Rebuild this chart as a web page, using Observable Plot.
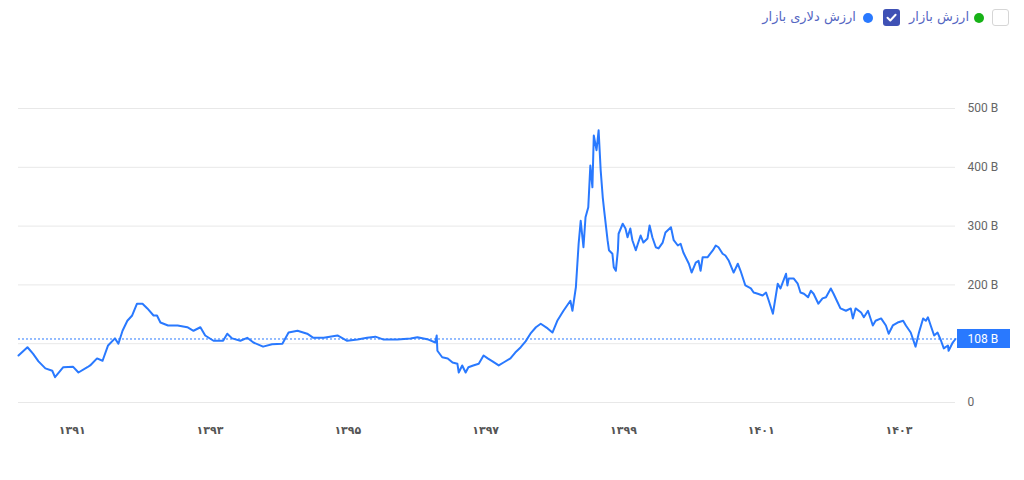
<!DOCTYPE html>
<html>
<head>
<meta charset="utf-8">
<script src="https://cdn.jsdelivr.net/npm/d3@7"></script>
<script src="https://cdn.jsdelivr.net/npm/@observablehq/plot@0.6"></script>
<style>
  html, body { margin: 0; padding: 0; background: #fff; }
  body { width: 1024px; height: 480px; position: relative; overflow: hidden; font-family: "DejaVu Sans", sans-serif; }
  #legend { position: relative; height: 40px; width: 1024px; }
  .lg { position: absolute; }
  .txt { color: #5566c2; font-size: 13px; font-family: "DejaVu Sans", sans-serif; direction: rtl; white-space: nowrap; line-height: 18px; }
  .dot { width: 10px; height: 10px; border-radius: 50%; }
  .box { width: 17px; height: 17px; border-radius: 3px; box-sizing: border-box; }
</style>
</head>
<body>
<div id="legend">
  <div class="lg box" style="left:992px; top:9px; border:1px solid #d6d6d6; background:#fff;"></div>
  <div class="lg dot" style="left:974px; top:13px; background:#17b217;"></div>
  <div class="lg txt" style="right:55px; top:8px;">ارزش بازار</div>
  <div class="lg box" style="left:883px; top:9px; background:#3f51b5;">
    <svg width="17" height="17" viewBox="0 0 17 17"><path d="M4.5 8.8 L7.3 11.5 L12.6 5.8" fill="none" stroke="#fff" stroke-width="2" stroke-linecap="round" stroke-linejoin="round"/></svg>
  </div>
  <div class="lg dot" style="left:863px; top:13px; background:#2979ff;"></div>
  <div class="lg txt" style="right:168px; top:8px;">ارزش دلاری بازار</div>
</div>
<div id="chart"></div>
<script>
// Time in Solar Hijri years (fractional)
const years = [
  1390.22, 1390.35, 1390.43, 1390.51, 1390.61, 1390.71, 1390.75, 1390.87, 1391.01, 1391.09,
  1391.22, 1391.26, 1391.36, 1391.44, 1391.52, 1391.62, 1391.67, 1391.73, 1391.80, 1391.87,
  1391.94, 1392.02, 1392.09, 1392.18, 1392.23, 1392.28, 1392.39, 1392.53, 1392.67, 1392.76,
  1392.86, 1392.93, 1393.05, 1393.19, 1393.25, 1393.32, 1393.44, 1393.54, 1393.63, 1393.77,
  1393.90, 1394.05, 1394.14, 1394.27, 1394.41, 1394.50, 1394.65, 1394.85, 1394.99, 1395.14,
  1395.28, 1395.40, 1395.52, 1395.72, 1395.91,
  1396.01, 1396.17, 1396.27, 1396.29, 1396.30, 1396.37, 1396.45, 1396.52, 1396.59, 1396.61,
  1396.66, 1396.71, 1396.75, 1396.82, 1396.90, 1396.97, 1397.03, 1397.10, 1397.19, 1397.26,
  1397.36, 1397.43, 1397.51, 1397.58, 1397.65, 1397.73, 1397.80, 1397.90, 1397.97, 1398.04,
  1398.13, 1398.23, 1398.26, 1398.31, 1398.35, 1398.38, 1398.42, 1398.45, 1398.49, 1398.52,
  1398.55, 1398.57, 1398.61, 1398.64, 1398.67, 1398.70, 1398.72, 1398.77, 1398.79, 1398.84,
  1398.86, 1398.89, 1398.92, 1398.93, 1398.99, 1399.03, 1399.06, 1399.10, 1399.13, 1399.18,
  1399.21, 1399.25, 1399.29, 1399.35, 1399.38, 1399.42, 1399.47, 1399.51, 1399.57, 1399.61,
  1399.69, 1399.73, 1399.79, 1399.83, 1399.87, 1399.95, 1399.99, 1400.05, 1400.09, 1400.12,
  1400.15, 1400.22, 1400.30, 1400.34, 1400.38, 1400.44, 1400.48, 1400.53, 1400.60, 1400.66,
  1400.70, 1400.77, 1400.85, 1400.89, 1400.95, 1401.02, 1401.07, 1401.11, 1401.17, 1401.24,
  1401.28, 1401.36, 1401.38, 1401.40, 1401.47, 1401.53, 1401.57, 1401.62, 1401.68, 1401.72,
  1401.76, 1401.83, 1401.89, 1401.94, 1402.01, 1402.05, 1402.11, 1402.15, 1402.23, 1402.30,
  1402.33, 1402.37, 1402.45, 1402.49, 1402.55, 1402.62, 1402.66, 1402.74, 1402.81, 1402.85,
  1402.91, 1402.98, 1403.06, 1403.10, 1403.17, 1403.24, 1403.29, 1403.35, 1403.39, 1403.42,
  1403.46, 1403.51, 1403.56, 1403.61, 1403.65, 1403.71, 1403.72, 1403.78, 1403.82
];
// Market dollar value (billions)
const values = [
  80, 94, 83, 70, 58, 54, 43, 60, 61, 51,
  60, 63, 75, 71, 97, 109, 100, 122, 139, 148,
  168, 168, 160, 148, 148, 136, 131, 131, 128, 122,
  128, 114, 105, 105, 117, 109, 105, 110, 102, 95,
  99, 100, 119, 122, 117, 110, 110, 114, 105, 107,
  110, 112, 107, 107, 109,
  111, 107, 102, 114, 88, 77, 75, 68, 66, 51,
  63, 51, 60, 63, 66, 80, 75, 70, 63, 68,
  75, 85, 94, 104, 117, 128, 134, 126, 119, 139,
  156, 173, 156, 196, 270, 309, 264, 315, 332, 403,
  366, 454, 429, 463, 395, 349, 327, 276, 259, 253,
  230, 224, 259, 287, 304, 296, 281, 296, 276, 259,
  270, 284, 272, 279, 301, 281, 264, 262, 272, 289,
  298, 276, 267, 270, 255, 236, 221, 238, 241, 224,
  247, 247, 259, 267, 264, 253, 250, 241, 221, 236,
  224, 199, 194, 187, 185, 182, 187, 173, 151, 202,
  194, 219, 199, 211, 211, 202, 187, 185, 179, 190,
  185, 168, 177, 179, 194, 185, 170, 160, 156, 160,
  143, 160, 153, 145, 156, 131, 139, 143, 131, 117,
  131, 136, 139, 131, 119, 95, 119, 143, 139, 145,
  131, 114, 119, 105, 92, 97, 88, 102, 108
];
const xTicks = [1391, 1393, 1395, 1397, 1399, 1401, 1403];
const yGrid = [0, 100, 200, 300, 400, 500];
const yLabels = [0, 200, 300, 400, 500];
const current = 108;

const data = years.map((t, i) => ({t, v: values[i]}));
const fa = s => String(s).replace(/\d/g, c => "۰۱۲۳۴۵۶۷۸۹"[+c]);
const blue = "#2979ff";

const plot = Plot.plot({
  width: 1024,
  height: 440,
  marginLeft: 18,
  marginRight: 69,
  marginTop: 68,
  marginBottom: 78,
  style: {fontFamily: "Roboto, sans-serif", background: "#fff"},
  x: {domain: [years[0], years[years.length - 1]], axis: null},
  y: {domain: [0, 500], axis: null},
  marks: [
    Plot.gridY(yGrid, {stroke: "#e8e8e8", strokeOpacity: 1}),
    Plot.axisY(yLabels, {anchor: "right", tickSize: 0, tickPadding: 12, tickFormat: d => d === 0 ? "0" : `${d} B`, fill: "#666", fontSize: 12, label: null}),
    Plot.axisX(xTicks, {anchor: "bottom", tickSize: 0, tickPadding: 24, tickFormat: fa, fill: "#555", fontSize: 11, fontWeight: "bold", fontFamily: "DejaVu Sans", label: null}),
    Plot.ruleY([current], {stroke: blue, strokeDasharray: "2,2", strokeWidth: 1, x1: years[0], x2: years[years.length - 1]}),
    Plot.lineY(data, {x: "t", y: "v", stroke: blue, strokeWidth: 2}),
    Plot.text([current], {y: d => d, frameAnchor: "right", dx: 12, textAnchor: "start", text: d => `${d} B`, fill: "#fff", fontSize: 12})
  ]
});

// label box behind the current-value text
const yy = plot.scale("y").apply(current);
const svg = d3.select(plot);
svg.insert("rect", "g[aria-label='text']")
  .attr("x", 1024 - 69 + 2).attr("y", yy - 9.5)
  .attr("width", 53).attr("height", 19)
  .attr("fill", blue);
document.getElementById("chart").appendChild(plot);
</script>
</body>
</html>
